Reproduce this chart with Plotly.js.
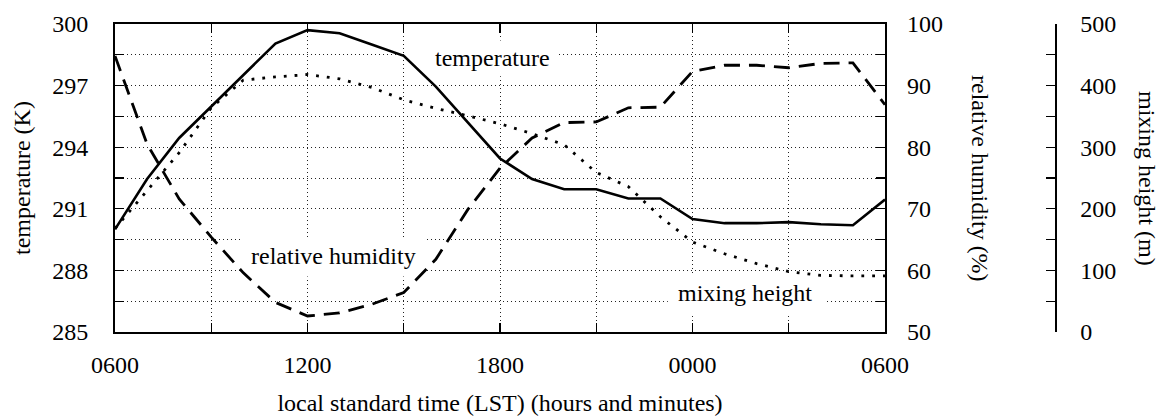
<!DOCTYPE html>
<html>
<head>
<meta charset="utf-8">
<script src="https://cdn.plot.ly/plotly-3.0.1.min.js"></script>
<style>html,body{margin:0;padding:0;background:#fff}#chart{width:1161px;height:416px}</style>
</head>
<body>
<div id="chart"></div>
<script>
// Hours after midnight of day 1 (6 = 0600, 24 = 0000, 30 = 0600 next day)
const hours = [6,7,8,9,10,11,12,13,14,15,16,17,18,19,20,21,22,23,24,25,26,27,28,29,30];
const temperature = [290.0,292.45,294.45,296.0,297.55,299.05,299.7,299.55,299.0,298.45,296.95,295.2,293.45,292.45,291.95,291.95,291.5,291.5,290.5,290.3,290.3,290.35,290.25,290.2,291.45];
const relativeHumidity = [94.8,80.5,71.6,65.4,59.6,54.8,52.6,53.1,54.5,56.4,61.8,69.9,76.6,81.5,84.0,84.1,86.4,86.5,92.3,93.3,93.3,92.9,93.6,93.7,86.9];
const mixingHeight = [168,229,291,364,409,414,418,411,397,377,363,351,338,322,304,259,236,187,146,127,111,98,92,91,91];

const xTickVals = [6,9,12,15,18,21,24,27,30];
const xTickText = ['0600','','1200','','1800','','0000','','0600'];
const tempTickVals = [285,286.5,288,289.5,291,292.5,294,295.5,297,298.5,300];
const tempTickText = ['285','','288','','291','','294','','297','','300'];
const rhTickVals = [50,55,60,65,70,75,80,85,90,95,100];
const rhTickText = ['50','','60','','70','','80','','90','','100'];
const mhTickVals = [0,50,100,150,200,250,300,350,400,450,500];
const mhTickText = ['0','','100','','200','','300','','400','','500'];

const seriesLabels = [
  {text:'temperature', x:17.76, y:298.35, box:[15.05,19.77,297.45,299.2]},
  {text:'relative humidity', x:12.81, y:288.68, box:[9.9,15.72,287.7,289.6]},
  {text:'mixing height', x:25.64, y:286.92, box:[23.23,28.12,285.8,287.75]}
];

const FONT = 'Liberation Serif, Times New Roman, serif';
const FS = 24;
const plotW = 1046; // 1161 - left margin
const domainEnd = 770 / plotW;

const traces = [
  {x:hours, y:temperature, type:'scatter', mode:'lines', name:'temperature', xaxis:'x', yaxis:'y',
   line:{color:'#000', width:2.6}},
  {x:hours, y:relativeHumidity, type:'scatter', mode:'lines', name:'relative humidity', xaxis:'x', yaxis:'y2',
   line:{color:'#000', width:2.8, dash:'16px,9px'}},
  {x:hours, y:mixingHeight, type:'scatter', mode:'lines', name:'mixing height', xaxis:'x', yaxis:'y3',
   line:{color:'#000', width:2.8, dash:'2.8px,8px'}}
];

const gridStyle = {showgrid:true, gridcolor:'#222', gridwidth:1, griddash:'1px,3px'};

const layout = {
  width:1161, height:416,
  margin:{l:115, r:0, t:24, b:84, pad:0},
  paper_bgcolor:'#fff', plot_bgcolor:'#fff',
  showlegend:false,
  font:{family:FONT, size:FS, color:'#000'},
  xaxis: Object.assign({
    domain:[0, domainEnd], range:[6,30], tickmode:'array', tickvals:xTickVals, ticktext:xTickText,
    ticks:'inside', ticklen:9, tickwidth:1.3, tickcolor:'#000',
    showline:true, linewidth:2, linecolor:'#000', mirror:'ticks', zeroline:false,
    ticklabelstandoff:10, automargin:false,
    title:{text:'local standard time (LST) (hours and minutes)', font:{family:FONT, size:FS}, standoff:18}
  }, gridStyle),
  yaxis: Object.assign({
    range:[285,300], tickmode:'array', tickvals:tempTickVals, ticktext:tempTickText,
    ticks:'inside', ticklen:9, tickwidth:1.3, tickcolor:'#000',
    showline:true, linewidth:2, linecolor:'#000', mirror:true, zeroline:false,
    ticklabelstandoff:20, automargin:false
  }, gridStyle),
  yaxis2: {
    overlaying:'y', side:'right', anchor:'x', range:[50,100], tickmode:'array', tickvals:rhTickVals, ticktext:rhTickText,
    ticks:'inside', ticklen:9, tickwidth:1.3, tickcolor:'#000', showline:false, showgrid:false, zeroline:false,
    ticklabelstandoff:21, automargin:false
  },
  yaxis3: {
    overlaying:'y', side:'right', anchor:'free', position:940/plotW, range:[0,500], tickmode:'array', tickvals:mhTickVals, ticktext:mhTickText,
    ticks:'inside', ticklen:9, tickwidth:1.3, tickcolor:'#000', showline:true, linewidth:1.5, linecolor:'#000',
    showgrid:false, zeroline:false, ticklabelstandoff:19, automargin:false
  },
  shapes: seriesLabels.map(l => ({type:'rect', xref:'x', yref:'y', x0:l.box[0], x1:l.box[1], y0:l.box[2], y1:l.box[3],
    fillcolor:'#fff', line:{width:0}, layer:'between'})),
  annotations: seriesLabels.map(l => ({text:l.text, x:l.x, y:l.y, xref:'x', yref:'y', showarrow:false,
    xanchor:'center', yanchor:'middle', font:{family:FONT, size:FS}})).concat([
    {text:'temperature (K)', xref:'paper', yref:'paper', x:0, y:0.5, xshift:-93, textangle:-90, showarrow:false,
     xanchor:'center', yanchor:'middle', font:{family:FONT, size:FS}},
    {text:'relative humidity (%)', xref:'paper', yref:'paper', x:(980-115)/plotW, y:0.5, textangle:90, showarrow:false,
     xanchor:'center', yanchor:'middle', font:{family:FONT, size:FS}},
    {text:'mixing height (m)', xref:'paper', yref:'paper', x:(1147-115)/plotW, y:0.5, textangle:90, showarrow:false,
     xanchor:'center', yanchor:'middle', font:{family:FONT, size:FS}}
  ])
};

Plotly.newPlot('chart', traces, layout, {staticPlot:true, displayModeBar:false});
</script>
</body>
</html>
